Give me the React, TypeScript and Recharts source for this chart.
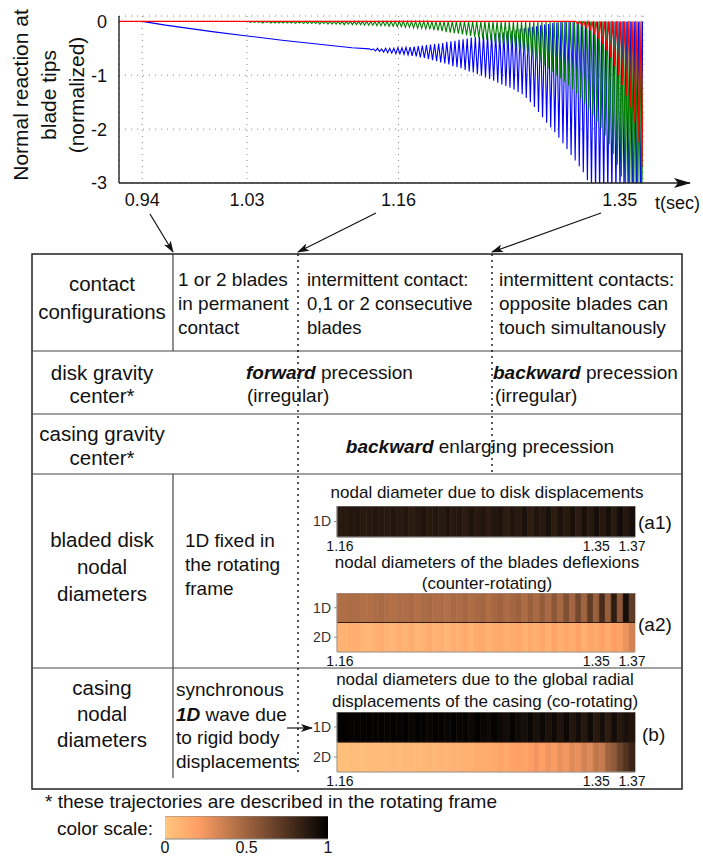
import React from 'react';
import {
  LineChart,
  Line,
  AreaChart,
  Area,
  XAxis,
  YAxis,
  CartesianGrid,
  BarChart,
  Bar,
  Cell,
  ReferenceLine,
} from 'recharts';

const FONT = '"Liberation Sans", Arial, Helvetica, sans-serif';
const INK = '#111';

// ---------- normal reaction at blade tips ----------
const timeTicks = [0.94, 1.03, 1.16, 1.35];
const reactionTicks = [0, -1, -2, -3];

// blue blade: slow drift before the vibration builds up
const blueDriftT = [0.94, 0.96, 0.98, 1.0, 1.03, 1.06, 1.09, 1.12];
const blueDriftV = [0, -0.07, -0.13, -0.19, -0.27, -0.35, -0.42, -0.49];

// start time of each oscillation cycle (s)
const cycleT = [
  1.03, 1.0335, 1.037, 1.0405, 1.044, 1.0475, 1.051, 1.0545, 1.058, 1.0615,
  1.065, 1.0685, 1.072, 1.0755, 1.079, 1.0825, 1.086, 1.0895, 1.093, 1.0965,
  1.1, 1.1035, 1.107, 1.1105, 1.114, 1.1175, 1.121, 1.1245, 1.128, 1.1315,
  1.135, 1.1385, 1.142, 1.1455, 1.149, 1.1525, 1.156, 1.1595, 1.163, 1.1665,
  1.17, 1.1735, 1.177, 1.1805, 1.184, 1.1875, 1.191, 1.1945, 1.198, 1.2015,
  1.205, 1.2085, 1.212, 1.2155, 1.219, 1.2225, 1.226, 1.2295, 1.233, 1.2365,
  1.24, 1.2435, 1.247, 1.2505, 1.254, 1.2575, 1.261, 1.2645, 1.268, 1.2715,
  1.275, 1.2785, 1.282, 1.2855, 1.289, 1.2925, 1.296, 1.2995, 1.303, 1.3065,
  1.31, 1.3135, 1.317, 1.3205, 1.324, 1.3275, 1.331, 1.3345, 1.338, 1.3415,
  1.345, 1.3485, 1.352, 1.3555, 1.359, 1.3625, 1.366, 1.3695,
];

// blue blade, cycles 30..97
const blueFirstCycle = 30;
const bluePeaks = [
  -0.51, -0.51, -0.5, -0.51, -0.5, -0.5, -0.5, -0.49, -0.49, -0.48,
  -0.48, -0.47, -0.46, -0.45, -0.44, -0.43, -0.42, -0.41, -0.4, -0.38,
  -0.37, -0.36, -0.34, -0.33, -0.32, -0.3, -0.29, -0.28, -0.26, -0.25,
  -0.24, -0.22, -0.21, -0.2, -0.18, -0.17, -0.16, -0.14, -0.13, -0.12,
  -0.1, -0.09, -0.07, -0.06, -0.05, -0.03, -0.02, -0.01, 0, 0,
  0, 0, 0, 0, 0, 0, 0, 0, 0, 0,
  0, 0, 0, 0, 0, 0, 0, 0,
];
const blueTroughs = [
  -0.53, -0.55, -0.56, -0.57, -0.58, -0.59, -0.6, -0.6, -0.61, -0.62,
  -0.64, -0.65, -0.67, -0.68, -0.7, -0.72, -0.74, -0.76, -0.78, -0.8,
  -0.83, -0.85, -0.87, -0.9, -0.93, -0.95, -0.98, -1.01, -1.04, -1.07,
  -1.1, -1.14, -1.17, -1.2, -1.23, -1.27, -1.31, -1.35, -1.42, -1.5,
  -1.59, -1.68, -1.78, -1.88, -1.97, -2.06, -2.16, -2.26, -2.37, -2.48,
  -2.58, -2.69, -2.8, -2.95, -3.1, -3.2, -3.2, -3.2, -3.2, -3.2,
  -3.2, -3.2, -3.2, -3.2, -3.2, -3.2, -3.2, -3.2,
];

// green blade, cycles 0..97, peaks stay on the casing (0)
const greenLag = 0.0012;
const greenTroughs = [
  -0.02, -0.02, -0.02, -0.03, -0.02, -0.03, -0.03, -0.03, -0.03, -0.03,
  -0.03, -0.04, -0.03, -0.04, -0.04, -0.04, -0.04, -0.05, -0.04, -0.05,
  -0.05, -0.05, -0.05, -0.06, -0.05, -0.06, -0.06, -0.06, -0.07, -0.07,
  -0.07, -0.08, -0.08, -0.08, -0.09, -0.09, -0.1, -0.1, -0.11, -0.11,
  -0.12, -0.13, -0.13, -0.14, -0.15, -0.16, -0.17, -0.18, -0.2, -0.21,
  -0.22, -0.23, -0.24, -0.26, -0.27, -0.29, -0.3, -0.32, -0.34, -0.36,
  -0.38, -0.4, -0.42, -0.45, -0.47, -0.5, -0.53, -0.57, -0.61, -0.66,
  -0.71, -0.76, -0.82, -0.88, -0.94, -1.0, -1.06, -1.12, -1.19, -1.26,
  -1.34, -1.43, -1.53, -1.63, -1.74, -1.86, -1.98, -2.12, -2.28, -2.46,
  -2.66, -2.88, -3.1, -3.3, -3.4, -3.4, -3.4, -3.4,
];

// red blade, cycles 80..97
const redFirstCycle = 80;
const redLag = 0.0023;
const redTroughs = [
  -0.05, -0.08, -0.12, -0.17, -0.24, -0.32, -0.42, -0.54, -0.67, -0.83,
  -1.0, -1.18, -1.38, -1.6, -1.88, -2.25, -2.7, -3.2,
];

type Pt = { t: number; v: number };

function oscillation(first: number, peaks: number[] | null, troughs: number[], lag: number): Pt[] {
  const pts: Pt[] = [];
  troughs.forEach((trough, i) => {
    const k = first + i;
    const t0 = cycleT[k];
    const t1 = k + 1 < cycleT.length ? cycleT[k + 1] : t0 + (t0 - cycleT[k - 1]);
    pts.push({ t: t0 + lag, v: peaks ? peaks[i] : 0 });
    pts.push({ t: (t0 + t1) / 2 + lag, v: trough });
  });
  return pts;
}

const blueData: Pt[] = [
  ...blueDriftT.map((t, i) => ({ t, v: blueDriftV[i] })),
  ...oscillation(blueFirstCycle, bluePeaks, blueTroughs, 0),
];
const greenData = oscillation(0, null, greenTroughs, greenLag);
const redData: Pt[] = [{ t: 0.92, v: 0 }, ...oscillation(redFirstCycle, null, redTroughs, redLag)];

// ---------- nodal diameter maps (one column per sample) ----------
const stripTickIndex = [0, 43, 49];
const stripTickLabels = ['1.16', '1.35', '1.37'];

const diskND1 = [
  0.87, 0.87, 0.89, 0.89, 0.87, 0.87, 0.89, 0.88, 0.87, 0.89,
  0.87, 0.89, 0.86, 0.88, 0.9, 0.87, 0.89, 0.87, 0.9, 0.87,
  0.89, 0.86, 0.9, 0.87, 0.89, 0.86, 0.89, 0.9, 0.86, 0.89,
  0.87, 0.91, 0.86, 0.9, 0.88, 0.92, 0.86, 0.91, 0.87, 0.92,
  0.86, 0.92, 0.87, 0.93, 0.88, 0.93, 0.87, 0.94, 0.88, 0.93,
];
const bladesND1 = [
  0.45, 0.45, 0.46, 0.46, 0.44, 0.44, 0.46, 0.47, 0.45, 0.44,
  0.46, 0.45, 0.47, 0.44, 0.46, 0.47, 0.45, 0.46, 0.44, 0.47,
  0.45, 0.48, 0.45, 0.47, 0.49, 0.45, 0.48, 0.5, 0.46, 0.49,
  0.51, 0.46, 0.52, 0.47, 0.54, 0.47, 0.56, 0.48, 0.6, 0.49,
  0.64, 0.5, 0.7, 0.52, 0.78, 0.53, 0.86, 0.56, 0.93, 0.7,
];
const bladesND2 = [
  0.1, 0.1, 0.12, 0.12, 0.09, 0.09, 0.11, 0.13, 0.1, 0.09,
  0.12, 0.1, 0.13, 0.09, 0.11, 0.14, 0.1, 0.12, 0.09, 0.13,
  0.11, 0.14, 0.1, 0.13, 0.15, 0.1, 0.13, 0.15, 0.11, 0.14,
  0.16, 0.11, 0.15, 0.12, 0.16, 0.11, 0.17, 0.12, 0.16, 0.13,
  0.18, 0.12, 0.17, 0.14, 0.19, 0.13, 0.2, 0.18, 0.26, 0.34,
];
const casingND1 = [
  0.99, 0.99, 0.98, 0.98, 0.99, 0.99, 0.98, 0.99, 0.98, 0.99,
  0.98, 0.99, 0.97, 0.99, 0.98, 0.97, 0.99, 0.98, 0.97, 0.99,
  0.97, 0.98, 0.96, 0.99, 0.97, 0.95, 0.98, 0.96, 0.94, 0.98,
  0.95, 0.93, 0.97, 0.92, 0.96, 0.91, 0.95, 0.9, 0.96, 0.89,
  0.94, 0.88, 0.95, 0.87, 0.93, 0.86, 0.94, 0.88, 0.92, 0.9,
];
const casingND2 = [
  0.04, 0.04, 0.05, 0.05, 0.04, 0.05, 0.06, 0.05, 0.06, 0.07,
  0.06, 0.07, 0.08, 0.07, 0.08, 0.09, 0.08, 0.1, 0.09, 0.11,
  0.1, 0.12, 0.11, 0.13, 0.14, 0.13, 0.15, 0.17, 0.15, 0.18,
  0.2, 0.17, 0.21, 0.24, 0.2, 0.25, 0.22, 0.27, 0.24, 0.3,
  0.27, 0.34, 0.3, 0.4, 0.38, 0.5, 0.55, 0.66, 0.74, 0.82,
];

const colorScaleTicks = [0, 0.5, 1];
const colorScaleStops = [0, 0.1, 0.2, 0.3, 0.4, 0.5, 0.6, 0.7, 0.8, 0.9, 1];

// reversed copper colormap: 0 -> light orange, 1 -> black
function copper(v: number) {
  const c = 1 - Math.max(0, Math.min(1, v));
  const r = Math.round(255 * Math.min(1, 1.25 * c));
  const g = Math.round(255 * 0.7812 * c);
  const b = Math.round(255 * 0.4975 * c);
  return `rgb(${r},${g},${b})`;
}

type StripRow = { label: string; values: number[] };

function NodalStrip({ top, plotHeight, rows }: { top: number; plotHeight: number; rows: StripRow[] }) {
  const data = rows[0].values.map((_, i) => {
    const col: Record<string, number> = { i };
    rows.forEach((_, r) => (col['h' + r] = 1));
    return col;
  });
  // stacking starts from the bottom row
  const stacked = rows.map((row, r) => ({ row, r })).reverse();
  return (
    <div style={{ position: 'absolute', left: 297, top }}>
      <BarChart
        width={378}
        height={plotHeight + 18}
        data={data}
        margin={{ top: 0, right: 40, bottom: 0, left: 0 }}
        barCategoryGap={0}
        barGap={0}
      >
        <XAxis
          dataKey="i"
          type="category"
          interval={0}
          height={18}
          tickLine={false}
          tickSize={0}
          tickMargin={4}
          axisLine={{ stroke: '#999' }}
          tick={{ fontSize: 14, fill: INK, fontFamily: FONT }}
          tickFormatter={(v: number) => {
            const k = stripTickIndex.indexOf(Number(v));
            return k >= 0 ? stripTickLabels[k] : '';
          }}
        />
        <YAxis
          type="number"
          domain={[0, rows.length]}
          ticks={rows.map((_, r) => rows.length - r - 0.5)}
          width={40}
          tickSize={3}
          tickMargin={3}
          tickLine={{ stroke: '#888' }}
          axisLine={{ stroke: '#999' }}
          tick={{ fontSize: 14, fill: '#333', fontFamily: FONT }}
          tickFormatter={(v: number) => rows[Math.round(rows.length - 0.5 - v)]?.label ?? ''}
        />
        {stacked.map(({ row, r }) => (
          <Bar key={row.label} dataKey={'h' + r} stackId="nd" isAnimationActive={false}>
            {row.values.map((v, i) => (
              <Cell key={i} fill={copper(v)} stroke={copper(v)} strokeWidth={0.6} />
            ))}
          </Bar>
        ))}
        {rows.length > 1 && <ReferenceLine y={1} stroke="#2a1a10" strokeWidth={1.2} />}
        <ReferenceLine y={rows.length} stroke="#999" />
      </BarChart>
    </div>
  );
}

function Txt({
  x,
  y,
  size = 19,
  anchor = 'start',
  children,
}: {
  x: number;
  y: number;
  size?: number;
  anchor?: 'start' | 'middle' | 'end';
  children: React.ReactNode;
}) {
  return (
    <text x={x} y={y} fontSize={size} textAnchor={anchor} dominantBaseline="central" fill={INK}>
      {children}
    </text>
  );
}

const Strong = ({ children }: { children: React.ReactNode }) => (
  <tspan fontWeight="bold" fontStyle="italic">
    {children}
  </tspan>
);

export default function App() {
  const labelCol = 102;
  return (
    <div
      style={{
        position: 'absolute',
        left: 0,
        top: 0,
        width: 703,
        height: 857,
        background: '#fff',
        fontFamily: FONT,
        overflow: 'hidden',
      }}
    >
      <div style={{ position: 'absolute', left: 0, top: 0 }}>
        <LineChart width={703} height={220} margin={{ top: 16, right: 60, bottom: 0, left: 0 }}>
          <CartesianGrid stroke="#8a8a8a" strokeDasharray="1 5" />
          <XAxis
            type="number"
            dataKey="t"
            domain={[0.92, 1.37]}
            ticks={timeTicks}
            allowDataOverflow
            height={37}
            tickLine={false}
            tickMargin={4}
            axisLine={{ stroke: '#222', strokeWidth: 1.4 }}
            tick={{ fontSize: 18, fill: INK, fontFamily: FONT }}
            tickFormatter={(v: number) => v.toFixed(2)}
          />
          <XAxis
            xAxisId="frame"
            orientation="top"
            type="number"
            domain={[0.92, 1.37]}
            height={0}
            tick={false}
            tickLine={false}
            axisLine={{ stroke: '#888' }}
          />
          <YAxis
            type="number"
            domain={[-3, 0.1]}
            ticks={reactionTicks}
            allowDataOverflow
            width={119}
            tickLine={false}
            tickMargin={6}
            axisLine={{ stroke: '#222', strokeWidth: 1.4 }}
            tick={{ fontSize: 18, fill: INK, fontFamily: FONT }}
          />
          <YAxis
            yAxisId="frame"
            orientation="right"
            type="number"
            domain={[-3, 0.1]}
            width={0}
            tick={false}
            tickLine={false}
            axisLine={{ stroke: '#888' }}
          />
          <Line data={blueData} dataKey="v" stroke="#0000ff" strokeWidth={1.1} dot={false} isAnimationActive={false} />
          <Line data={greenData} dataKey="v" stroke="#008000" strokeWidth={1.1} dot={false} isAnimationActive={false} />
          <Line data={redData} dataKey="v" stroke="#ff0000" strokeWidth={1.1} dot={false} isAnimationActive={false} />
        </LineChart>
      </div>

      <NodalStrip top={506} plotHeight={31} rows={[{ label: '1D', values: diskND1 }]} />
      <NodalStrip
        top={593}
        plotHeight={59}
        rows={[
          { label: '1D', values: bladesND1 },
          { label: '2D', values: bladesND2 },
        ]}
      />
      <NodalStrip
        top={712}
        plotHeight={60}
        rows={[
          { label: '1D', values: casingND1 },
          { label: '2D', values: casingND2 },
        ]}
      />

      {/* color scale bar */}
      <div style={{ position: 'absolute', left: 155, top: 816 }}>
        <AreaChart
          width={183}
          height={44}
          data={colorScaleTicks.map((v) => ({ v, band: 1 }))}
          margin={{ top: 0, right: 10, bottom: 0, left: 10 }}
        >
          <defs>
            <linearGradient id="copperScale" x1="0" y1="0" x2="1" y2="0">
              {colorScaleStops.map((s) => (
                <stop key={s} offset={`${s * 100}%`} stopColor={copper(s)} />
              ))}
            </linearGradient>
          </defs>
          <XAxis
            dataKey="v"
            type="number"
            domain={[0, 1]}
            ticks={colorScaleTicks}
            height={21}
            tickLine={false}
            tickSize={0}
            tickMargin={3}
            axisLine={{ stroke: '#888' }}
            tick={{ fontSize: 16, fill: INK, fontFamily: FONT }}
          />
          <YAxis hide type="number" domain={[0, 1]} />
          <Area
            dataKey="band"
            type="linear"
            stroke="#888"
            strokeWidth={1}
            fill="url(#copperScale)"
            fillOpacity={1}
            isAnimationActive={false}
            dot={false}
            activeDot={false}
          />
        </AreaChart>
      </div>

      <svg
        width={703}
        height={857}
        style={{ position: 'absolute', left: 0, top: 0, pointerEvents: 'none', fontFamily: FONT }}
      >
        <defs>
          <marker id="headBig" markerUnits="userSpaceOnUse" markerWidth={18} markerHeight={10} refX={16} refY={5} orient="auto">
            <path d="M0,0 L17,5 L0,10 L4,5 z" fill={INK} />
          </marker>
          <marker id="headSmall" markerUnits="userSpaceOnUse" markerWidth={12} markerHeight={8} refX={11} refY={4} orient="auto">
            <path d="M0,0 L12,4 L0,8 L3,4 z" fill={INK} />
          </marker>
        </defs>

        {/* axis title */}
        <g fontSize={21} fill={INK} textAnchor="middle" dominantBaseline="central">
          <text transform="translate(20,95) rotate(-90)">Normal reaction at</text>
          <text transform="translate(48,95) rotate(-90)">blade tips</text>
          <text transform="translate(76,95) rotate(-90)">(normalized)</text>
        </g>
        <line x1={643} y1={183} x2={690} y2={183} stroke="#222" strokeWidth={1.4} markerEnd="url(#headBig)" />
        <Txt x={655} y={203} size={18}>t(sec)</Txt>

        {/* pointers from the time axis to the table */}
        <g stroke={INK} strokeWidth={1.2}>
          <line x1={150} y1={214} x2={173} y2={252} markerEnd="url(#headSmall)" />
          <line x1={376} y1={213} x2={298} y2={252} markerEnd="url(#headSmall)" />
          <line x1={601} y1={213} x2={492} y2={252} markerEnd="url(#headSmall)" />
          <line x1={287} y1={728} x2={312} y2={728} markerEnd="url(#headSmall)" />
        </g>

        {/* table frame */}
        <rect x={32} y={254} width={650} height={535} fill="none" stroke="#222" strokeWidth={1.5} />
        <g stroke="#444" strokeWidth={1.2}>
          <line x1={32} y1={351} x2={682} y2={351} />
          <line x1={32} y1={414} x2={682} y2={414} />
          <line x1={32} y1={474} x2={682} y2={474} />
          <line x1={32} y1={668} x2={682} y2={668} />
          <line x1={173} y1={254} x2={173} y2={351} />
          <line x1={173} y1={474} x2={173} y2={778} />
        </g>
        <g stroke={INK} strokeWidth={1.4} strokeDasharray="2 4">
          <line x1={298} y1={254} x2={298} y2={776} />
          <line x1={492} y1={254} x2={492} y2={472} />
        </g>

        {/* row headers */}
        <Txt x={labelCol} y={283} anchor="middle" size={20.5}>contact</Txt>
        <Txt x={labelCol} y={311} anchor="middle" size={20.5}>configurations</Txt>
        <Txt x={labelCol} y={372} anchor="middle" size={20.5}>disk gravity</Txt>
        <Txt x={labelCol} y={395} anchor="middle" size={20.5}>center*</Txt>
        <Txt x={labelCol} y={433} anchor="middle" size={20.5}>casing gravity</Txt>
        <Txt x={labelCol} y={457} anchor="middle" size={20.5}>center*</Txt>
        <Txt x={labelCol} y={539} anchor="middle" size={20.5}>bladed disk</Txt>
        <Txt x={labelCol} y={566} anchor="middle" size={20.5}>nodal</Txt>
        <Txt x={labelCol} y={593} anchor="middle" size={20.5}>diameters</Txt>
        <Txt x={labelCol} y={687} anchor="middle" size={20.5}>casing</Txt>
        <Txt x={labelCol} y={713} anchor="middle" size={20.5}>nodal</Txt>
        <Txt x={labelCol} y={739} anchor="middle" size={20.5}>diameters</Txt>

        {/* contact configurations */}
        <Txt x={178} y={279}>1 or 2 blades</Txt>
        <Txt x={178} y={303}>in permanent</Txt>
        <Txt x={178} y={327}>contact</Txt>
        <Txt x={307} y={279} size={18.5}>intermittent contact:</Txt>
        <Txt x={307} y={303} size={18.5}>0,1 or 2 consecutive</Txt>
        <Txt x={307} y={327} size={18.5}>blades</Txt>
        <Txt x={499} y={279}>intermittent contacts:</Txt>
        <Txt x={499} y={303}>opposite blades can</Txt>
        <Txt x={499} y={327}>touch simultanously</Txt>

        {/* gravity centers */}
        <Txt x={246} y={372}>
          <Strong>forward</Strong> precession
        </Txt>
        <Txt x={247} y={395}>(irregular)</Txt>
        <Txt x={493} y={372}>
          <Strong>backward</Strong> precession
        </Txt>
        <Txt x={495} y={395}>(irregular)</Txt>
        <Txt x={480} y={446} anchor="middle">
          <Strong>backward</Strong> enlarging precession
        </Txt>

        {/* bladed disk nodal diameters */}
        <Txt x={185} y={540}>1D fixed in</Txt>
        <Txt x={185} y={564}>the rotating</Txt>
        <Txt x={185} y={588}>frame</Txt>
        <Txt x={487} y={492} anchor="middle" size={17}>nodal diameter due to disk displacements</Txt>
        <Txt x={638} y={522}>(a1)</Txt>
        <Txt x={487} y={562} anchor="middle" size={17}>nodal diameters of the blades deflexions</Txt>
        <Txt x={487} y={583} anchor="middle" size={17}>(counter-rotating)</Txt>
        <Txt x={638} y={624}>(a2)</Txt>

        {/* casing nodal diameters */}
        <Txt x={176} y={689}>synchronous</Txt>
        <Txt x={176} y={714}>
          <Strong>1D</Strong> wave due
        </Txt>
        <Txt x={176} y={737}>to rigid body</Txt>
        <Txt x={176} y={761}>displacements</Txt>
        <Txt x={485} y={679} anchor="middle" size={17}>nodal diameters due to the global radial</Txt>
        <Txt x={485} y={701} anchor="middle" size={17}>displacements of the casing (co-rotating)</Txt>
        <Txt x={642} y={734}>(b)</Txt>

        {/* footnote and color scale caption */}
        <Txt x={45} y={801}>* these trajectories are described in the rotating frame</Txt>
        <Txt x={57} y={828}>color scale:</Txt>
      </svg>
    </div>
  );
}
